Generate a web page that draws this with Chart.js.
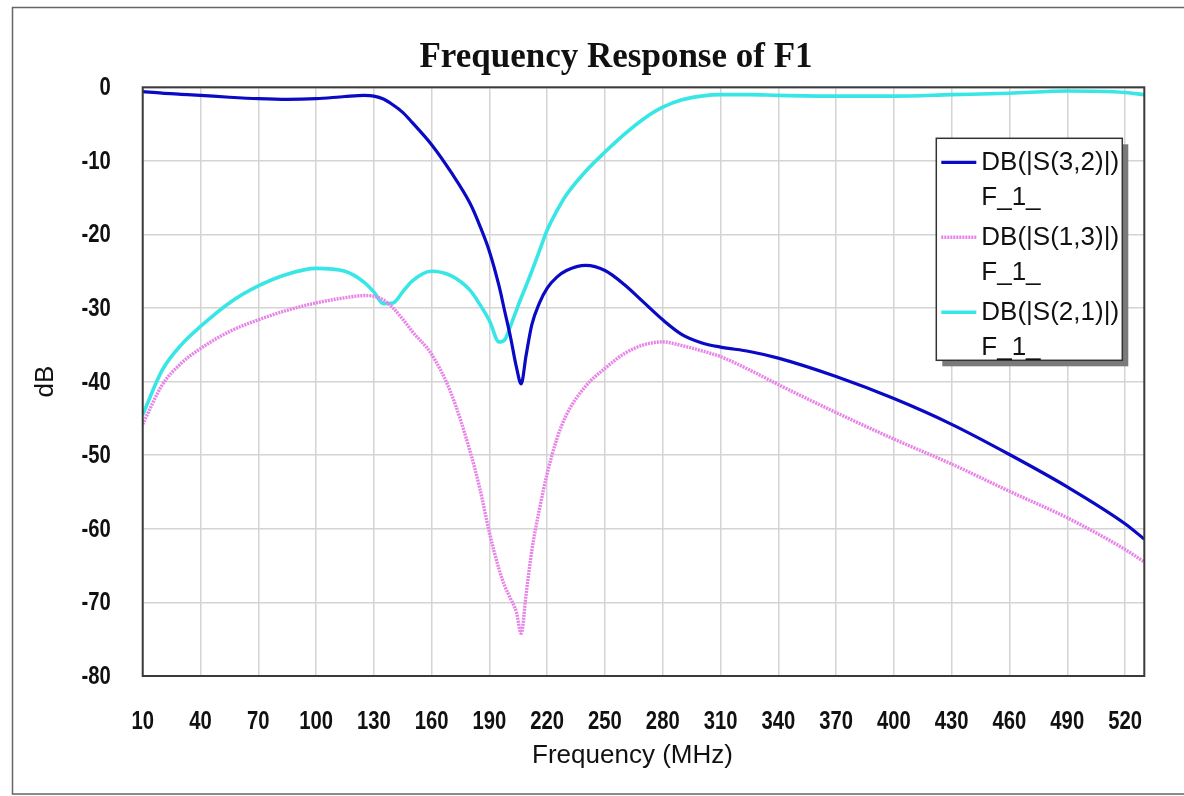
<!DOCTYPE html>
<html>
<head>
<meta charset="utf-8">
<script src="https://cdn.jsdelivr.net/npm/chart.js@4/dist/chart.umd.min.js"></script>
<style>
  html, body { margin: 0; padding: 0; background: #ffffff; }
  #wrap { width: 1184px; height: 796px; position: relative; }
</style>
</head>
<body>
<div id="wrap"><canvas id="c" width="1184" height="796"></canvas></div>
<script>
// ---- Data ----
const TITLE = 'Frequency Response of F1';
const X_TITLE = 'Frequency (MHz)';
const Y_TITLE = 'dB';
const SERIES_NAMES = ['DB(|S(3,2)|)', 'DB(|S(1,3)|)', 'DB(|S(2,1)|)'];
const SUB_LABEL = 'F_1_';

const FREQ = [10, 20, 30, 40, 55, 70, 85, 100, 115, 125, 130, 135, 140, 145, 150, 160, 170, 180, 185, 190, 195, 198, 201, 204, 206.5, 209, 212, 216, 220, 225, 230, 240, 250, 260, 270, 280, 290, 300, 310, 325, 340, 370, 400, 430, 460, 490, 520, 530];

const S32 = [-0.6, -0.8, -0.95, -1.1, -1.35, -1.55, -1.65, -1.55, -1.25, -1.1, -1.2, -1.6, -2.4, -3.4, -4.8, -7.8, -11.5, -15.8, -18.8, -22.3, -27, -30.5, -34, -38, -40.3, -36.5, -32.3, -29.3, -27.3, -25.8, -24.9, -24.2, -24.9, -26.8, -29.2, -31.6, -33.6, -34.7, -35.3, -35.9, -36.8, -39.3, -42.3, -45.8, -49.9, -54.3, -59.3, -61.4];

const S13 = [-45.8, -40.5, -37.5, -35.5, -33.2, -31.6, -30.3, -29.3, -28.6, -28.3, -28.4, -28.9, -30, -31.5, -33.2, -36.3, -41.5, -49.5, -54.5, -60.5, -65.5, -67.8, -69.5, -71.3, -74.2, -69, -63, -57.3, -52.5, -47.8, -44.5, -40.6, -38.2, -36.2, -35, -34.6, -35.1, -35.8, -36.6, -38.4, -40.4, -44.2, -47.8, -51.2, -54.9, -58.5, -62.8, -64.5];

const S21 = [-44.5, -38.5, -35, -32.5, -29.3, -27, -25.4, -24.6, -25, -26.5, -27.8, -29.4, -29.3, -27.8, -26.3, -25, -25.6, -27.6, -29.5, -31.7, -34.6, -34.3, -32.4, -30.3, -28.6, -27, -25, -22.2, -19.4, -16.8, -14.6, -11.4, -8.8, -6.4, -4.3, -2.7, -1.7, -1.2, -1.0, -1.0, -1.1, -1.2, -1.2, -1.0, -0.8, -0.5, -0.7, -1.0];

const X_TICKS = [10, 40, 70, 100, 130, 160, 190, 220, 250, 280, 310, 340, 370, 400, 430, 460, 490, 520];
const Y_TICKS = [0, -10, -20, -30, -40, -50, -60, -70, -80];

// ---- Styles ----
const COLORS = ['#0a0ac4', '#e882e8', '#38e6e6'];
const SANS = "'Liberation Sans', Arial, sans-serif";
const SERIF = "'Liberation Serif', 'Times New Roman', serif";
const TICK_FONT = 'bold 25px ' + SANS;
const NARROW_SCALE = 0.81;

function pts(arr) { return FREQ.map((f, i) => ({ x: f, y: arr[i] })); }

const datasets = [
  { label: SERIES_NAMES[0], data: pts(S32), borderColor: COLORS[0], borderWidth: 3.2 },
  { label: SERIES_NAMES[1], data: pts(S13), borderColor: COLORS[1], borderWidth: 3.4, borderDash: [2, 1] },
  { label: SERIES_NAMES[2], data: pts(S21), borderColor: COLORS[2], borderWidth: 3.6 }
].map(d => Object.assign({ pointRadius: 0, fill: false, cubicInterpolationMode: 'monotone' }, d));

function narrowText(ctx, text, x, y, align) {
  ctx.save();
  ctx.translate(x, y);
  ctx.scale(NARROW_SCALE, 1);
  ctx.textAlign = align;
  ctx.fillText(text, 0, 0);
  ctx.restore();
}

const framePlugin = {
  id: 'frame',
  beforeDraw(chart) {
    const ctx = chart.ctx;
    ctx.save();
    ctx.fillStyle = '#ffffff';
    ctx.fillRect(0, 0, chart.width, chart.height);
    ctx.strokeStyle = '#666666';
    ctx.lineWidth = 1.5;
    ctx.beginPath();
    ctx.moveTo(1200, 7.5); ctx.lineTo(12.5, 7.5); ctx.lineTo(12.5, 794); ctx.lineTo(1200, 794);
    ctx.stroke();
    ctx.restore();
  },
  afterDraw(chart) {
    const ctx = chart.ctx;
    const a = chart.chartArea;
    ctx.save();
    // plot border
    ctx.strokeStyle = '#3a3a3a';
    ctx.lineWidth = 2;
    ctx.strokeRect(a.left, a.top, a.right - a.left, a.bottom - a.top);
    // narrow bold tick labels
    ctx.fillStyle = '#111111';
    ctx.font = TICK_FONT;
    ctx.textBaseline = 'middle';
    const xs = chart.scales.x, ys = chart.scales.y;
    xs.ticks.forEach(t => narrowText(ctx, String(t.value), xs.getPixelForValue(t.value), a.bottom + 46, 'center'));
    ys.ticks.forEach(t => narrowText(ctx, String(t.value), a.left - 32, ys.getPixelForValue(t.value) + 1, 'right'));
    // x axis title
    ctx.font = '26px ' + SANS;
    ctx.textAlign = 'center';
    ctx.fillText(X_TITLE, a.left + (a.right - a.left) * 0.489, a.bottom + 80);
    // title
    ctx.font = 'bold 35px ' + SERIF;
    ctx.textAlign = 'center';
    ctx.fillText(TITLE, 616, 58);
    // legend
    const lx = a.right - 208, ly = a.top + 51, lw = 186, lh = 222;
    ctx.fillStyle = '#7a7a7a';
    ctx.fillRect(lx + 6, ly + 6, lw, lh);
    ctx.fillStyle = '#ffffff';
    ctx.fillRect(lx, ly, lw, lh);
    ctx.strokeStyle = '#333333';
    ctx.lineWidth = 1.5;
    ctx.strokeRect(lx, ly, lw, lh);
    ctx.font = '26px ' + SANS;
    ctx.textAlign = 'left';
    ctx.textBaseline = 'middle';
    chart.data.datasets.forEach((ds, i) => {
      const y = ly + 24 + i * 75;
      ctx.strokeStyle = ds.borderColor;
      ctx.lineWidth = ds.borderWidth;
      ctx.setLineDash(ds.borderDash || []);
      ctx.beginPath();
      ctx.moveTo(lx + 5, y); ctx.lineTo(lx + 40, y);
      ctx.stroke();
      ctx.setLineDash([]);
      ctx.fillStyle = '#111111';
      ctx.fillText(ds.label, lx + 45, y + 1);
      ctx.fillText(SUB_LABEL, lx + 45, y + 36);
    });
    ctx.restore();
  }
};

new Chart(document.getElementById('c'), {
  type: 'line',
  data: { datasets },
  plugins: [framePlugin],
  options: {
    responsive: false,
    animation: false,
    layout: { padding: { left: 20, right: 39.7, top: 87.3, bottom: 0 } },
    plugins: { legend: { display: false }, title: { display: false }, tooltip: { enabled: false } },
    scales: {
      x: {
        type: 'linear', min: 10, max: 530,
        afterBuildTicks: s => { s.ticks = X_TICKS.map(v => ({ value: v })); },
        afterFit: s => { s.height = 120; },
        grid: { color: '#d4d4d4', lineWidth: 1.5, drawTicks: false },
        border: { display: false },
        ticks: { padding: 33, color: 'rgba(0,0,0,0)', maxRotation: 0, autoSkip: false, font: { family: SANS, size: 25, weight: 'bold' } },
        title: { display: false }
      },
      y: {
        type: 'linear', min: -80, max: 0,
        afterBuildTicks: s => { s.ticks = Y_TICKS.map(v => ({ value: v })); },
        afterFit: s => { s.width = 122.7; },
        grid: { color: '#d4d4d4', lineWidth: 1.5, drawTicks: false },
        border: { display: false },
        ticks: { padding: 32, color: 'rgba(0,0,0,0)', autoSkip: false, font: { family: SANS, size: 25, weight: 'bold' } },
        title: { display: true, text: Y_TITLE, color: '#111111', padding: { top: 10, bottom: 0 }, font: { family: SANS, size: 26 } }
      }
    }
  }
});
</script>
</body>
</html>
